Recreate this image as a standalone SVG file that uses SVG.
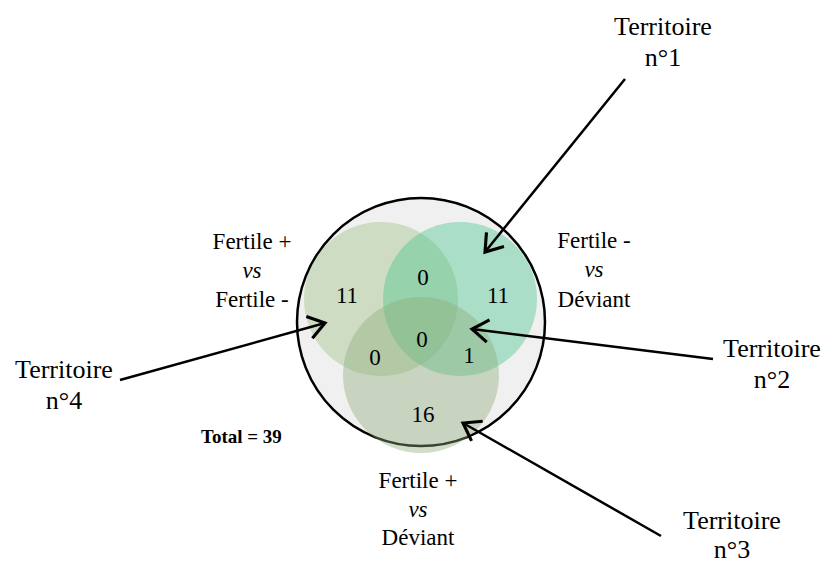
<svg xmlns="http://www.w3.org/2000/svg" width="824" height="563" viewBox="0 0 824 563">
<style>
text{font-family:"Liberation Serif","Tinos","Times New Roman","DejaVu Serif",serif;fill:#000;text-anchor:middle}
.lbl{font-size:23px}
.ter{font-size:26px}
.num{font-size:23px}
.it{font-style:italic}
.tot{font-size:19px;font-weight:bold;text-anchor:start}
.conn{stroke:#000;stroke-width:2.5;fill:none}
.set{fill-opacity:0.4}
</style>
<defs>
<marker id="ah" markerUnits="userSpaceOnUse" markerWidth="30" markerHeight="30" viewBox="-16 -12 20 24" refX="0" refY="0" orient="auto" overflow="visible">
<path d="M-13,-9 L0,0 L-13,9" fill="none" stroke="#000" stroke-width="2.5"/>
</marker>
</defs>
<g id="universe">
<circle cx="421" cy="322" r="124" fill="#f0f0f0" stroke="#000" stroke-width="2.5"/>
</g>
<g id="set-fplus-fminus">
<circle class="set" cx="381" cy="299" r="77" fill="rgb(153,190,128)"/>
</g>
<g id="set-fminus-deviant">
<circle class="set" cx="460" cy="299" r="77" fill="rgb(68,195,135)"/>
</g>
<g id="set-fplus-deviant">
<circle class="set" cx="421" cy="375" r="78" fill="rgb(140,170,117)"/>
</g>
<g id="counts">
<text class="num" x="423" y="285">0</text>
<text class="num" x="347" y="303">11</text>
<text class="num" x="498" y="303">11</text>
<text class="num" x="422" y="347">0</text>
<text class="num" x="375" y="365">0</text>
<text class="num" x="469" y="363">1</text>
<text class="num" x="423" y="422">16</text>
</g>
<g id="label-fplus-fminus">
<text class="lbl" x="252" y="249">Fertile +</text>
<text class="lbl it" x="252" y="278">vs</text>
<text class="lbl" x="252" y="307">Fertile -</text>
</g>
<g id="label-fminus-deviant">
<text class="lbl" x="594" y="248">Fertile -</text>
<text class="lbl it" x="594" y="277">vs</text>
<text class="lbl" x="594" y="307">Déviant</text>
</g>
<g id="label-fplus-deviant">
<text class="lbl" x="418" y="488">Fertile +</text>
<text class="lbl it" x="418" y="517">vs</text>
<text class="lbl" x="418" y="545">Déviant</text>
</g>
<g id="total">
<text class="tot" x="201" y="443">Total = 39</text>
</g>
<g id="territoire-1">
<text class="ter" x="663" y="35">Territoire</text>
<text class="ter" x="663" y="66">n°1</text>
</g>
<g id="territoire-2">
<text class="ter" x="772" y="357">Territoire</text>
<text class="ter" x="772" y="388">n°2</text>
</g>
<g id="territoire-3">
<text class="ter" x="732" y="529">Territoire</text>
<text class="ter" x="732" y="558">n°3</text>
</g>
<g id="territoire-4">
<text class="ter" x="64" y="378">Territoire</text>
<text class="ter" x="64" y="409">n°4</text>
</g>
<g id="connectors">
<line class="conn" x1="625" y1="79" x2="485" y2="252" marker-end="url(#ah)"/>
<line class="conn" x1="713" y1="359" x2="472" y2="329" marker-end="url(#ah)"/>
<line class="conn" x1="661" y1="536" x2="463" y2="423" marker-end="url(#ah)"/>
<line class="conn" x1="120" y1="380" x2="325" y2="323" marker-end="url(#ah)"/>
</g>
</svg>
